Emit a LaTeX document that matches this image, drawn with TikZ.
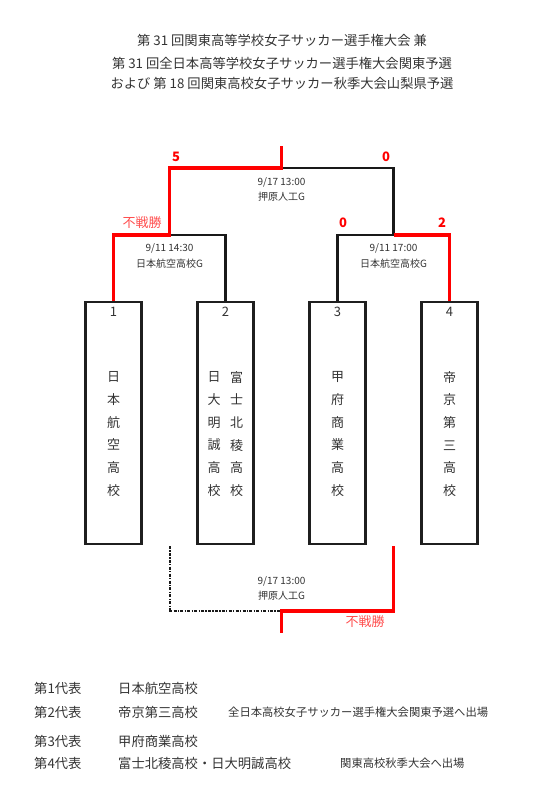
\documentclass[tikz,border=0pt]{standalone}
\usepackage{fontspec}
\setmainfont{Noto Sans CJK JP}
\definecolor{ink}{HTML}{333333}
\definecolor{win}{HTML}{FF0000}
\definecolor{winlbl}{HTML}{FF4D4D}
\tikzset{
  box/.style={draw=black!88, line width=2.4pt, minimum width=56pt, minimum height=242pt, inner sep=0pt},
  loseline/.style={draw=black!90, line width=2.4pt},
  winline/.style={draw=win, line width=3.2pt},
  dashline/.style={draw=black!90, line width=2pt, dash pattern=on 3pt off 1.3pt on 1.3pt off 1.3pt},
  title/.style={font=\fontsize{13.3}{15}\selectfont, text=ink, inner sep=0pt},
  info/.style={font=\fontsize{10}{12}\selectfont, text=ink, inner sep=0pt},
  score/.style={font=\fontsize{13}{15}\selectfont\bfseries, text=win, inner sep=0pt},
  fusen/.style={font=\fontsize{13}{15}\selectfont, text=winlbl, inner sep=0pt},
  school/.style={font=\fontsize{13}{22.7}\selectfont, text=ink, align=center, inner sep=0pt},
  num/.style={font=\fontsize{13}{15}\selectfont, text=ink, inner sep=0pt},
  listtext/.style={font=\fontsize{13.3}{15}\selectfont, text=ink, inner sep=0pt, anchor=west},
  note/.style={font=\fontsize{11.3}{13}\selectfont, text=ink, inner sep=0pt, anchor=west},
}
\begin{document}
\begin{tikzpicture}[x=1pt,y=-1pt]
\useasboundingbox (0,0) rectangle (550,797);
% titles
\node[title] (t1) at (282,40) {第 31 回関東高等学校女子サッカー選手権大会 兼};
\node[title] (t2) at (282,63) {第 31 回全日本高等学校女子サッカー選手権大会関東予選};
\node[title] (t3) at (282,83) {および 第 18 回関東高校女子サッカー秋季大会山梨県予選};
% boxes
\node[box] (b1) at (113.5,423) {};
\node[box] (b2) at (225.5,423) {};
\node[box] (b3) at (337.5,423) {};
\node[box] (b4) at (449.5,423) {};
\node[num] (n1) at (113.5,312) {1};
\node[num] (n2) at (225.5,312) {2};
\node[num] (n3) at (337.5,312) {3};
\node[num] (n4) at (449.5,312) {4};
\node[school] (s1) at (113.5,434) {日\\本\\航\\空\\高\\校};
\node[school] (s2a) at (214,434) {日\\大\\明\\誠\\高\\校};
\node[school] (s2b) at (236.5,434) {富\\士\\北\\稜\\高\\校};
\node[school] (s3) at (337.5,434) {甲\\府\\商\\業\\高\\校};
\node[school] (s4) at (449.5,434) {帝\\京\\第\\三\\高\\校};
% bracket junctions
\coordinate (j1) at (169.5,235);
\coordinate (j2) at (393.5,235);
\coordinate (f) at (281.5,168);
\coordinate (ftop) at (281.5,146);
% losing lines
\draw[loseline] (b2.north) |- (j1);
\draw[loseline] (b3.north) |- (j2);
\draw[loseline] (j2) |- (f);
% winning lines
\draw[winline] (b1.north) |- (j1) |- (f) -- (ftop);
\draw[winline] (b4.north) |- (j2);
% scores
\node[score] (sc1) at (176,157) {5};
\node[score] (sc2) at (386,157) {0};
\node[fusen] (fs1) at (142,223) {不戦勝};
\node[score] (sc3) at (343,223) {0};
\node[score] (sc4) at (442,223) {2};
% match info
\node[info] (i1) at (281.5,182) {9/17 13:00};
\node[info] (i1b) at (281.5,197) {押原人工G};
\node[info] (i2) at (169.5,248) {9/11 14:30};
\node[info] (i2b) at (169.5,264) {日本航空高校G};
\node[info] (i3) at (393.5,248) {9/11 17:00};
\node[info] (i3b) at (393.5,264) {日本航空高校G};
% third place bracket
\coordinate (d1) at (169.5,546);
\coordinate (g) at (281.5,611);
\coordinate (r1) at (393.5,546);
\coordinate (gb) at (281.5,633);
\draw[dashline] (d1) |- (g);
\draw[winline] (r1) |- (g) -- (gb);
\node[fusen] (fs2) at (365,622) {不戦勝};
\node[info] (i4) at (281.5,581) {9/17 13:00};
\node[info] (i4b) at (281.5,596) {押原人工G};
% results list
\node[listtext] (l1a) at (34,688) {第1代表};
\node[listtext] (l1b) at (118,688) {日本航空高校};
\node[listtext] (l2a) at (34,712) {第2代表};
\node[listtext] (l2b) at (118,712) {帝京第三高校};
\node[note] (l2c) at (228,712) {全日本高校女子サッカー選手権大会関東予選へ出場};
\node[listtext] (l3a) at (34,741) {第3代表};
\node[listtext] (l3b) at (118,741) {甲府商業高校};
\node[listtext] (l4a) at (34,763) {第4代表};
\node[listtext] (l4b) at (118,763) {富士北稜高校・日大明誠高校};
\node[note] (l4c) at (340,763) {関東高校秋季大会へ出場};
\end{tikzpicture}
\end{document}
